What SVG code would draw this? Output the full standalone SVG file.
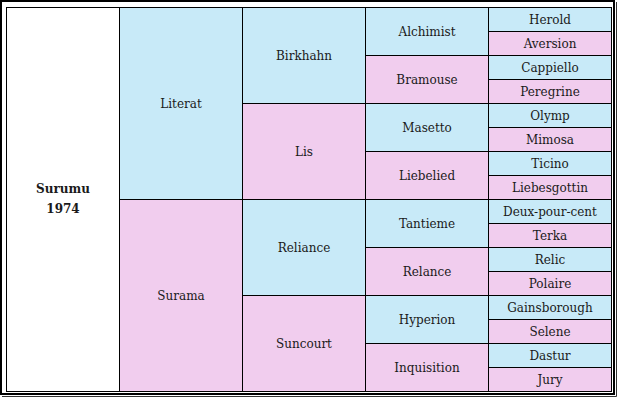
<svg xmlns="http://www.w3.org/2000/svg" width="617" height="397" viewBox="0 0 617 397">
<style>
.m{fill:#c8eaf8;stroke:#000;stroke-width:1}
.f{fill:#f1cdee;stroke:#000;stroke-width:1}
.w{fill:#fff;stroke:#000;stroke-width:1}
text{font-family:"DejaVu Serif","Liberation Serif",serif;font-size:12px;fill:#1a1a1a;text-anchor:middle}
.b{font-weight:bold}
</style>
<rect x="1" y="1" width="613" height="393" fill="#fff" stroke="#000" stroke-width="2"/>
<path d="M616.5 2V396.5H2" fill="none" stroke="#333" stroke-width="1"/>
<g id="surumu"><rect class="w" x="6.5" y="7.5" width="113" height="384"/><text class="b" x="63" y="193">Surumu</text><text class="b" x="63" y="213">1974</text></g>
<g id="literat"><rect class="m" x="119.5" y="7.5" width="123" height="192"/><text x="181" y="107.5">Literat</text></g>
<g id="surama"><rect class="f" x="119.5" y="199.5" width="123" height="192"/><text x="181" y="299.5">Surama</text></g>
<g id="birkhahn"><rect class="m" x="242.5" y="7.5" width="123" height="96"/><text x="304" y="59.5">Birkhahn</text></g>
<g id="lis"><rect class="f" x="242.5" y="103.5" width="123" height="96"/><text x="304" y="155.5">Lis</text></g>
<g id="reliance"><rect class="m" x="242.5" y="199.5" width="123" height="96"/><text x="304" y="251.5">Reliance</text></g>
<g id="suncourt"><rect class="f" x="242.5" y="295.5" width="123" height="96"/><text x="304" y="347.5">Suncourt</text></g>
<g id="alchimist"><rect class="m" x="365.5" y="7.5" width="123" height="48"/><text x="427" y="35.5">Alchimist</text></g>
<g id="bramouse"><rect class="f" x="365.5" y="55.5" width="123" height="48"/><text x="427" y="83.5">Bramouse</text></g>
<g id="masetto"><rect class="m" x="365.5" y="103.5" width="123" height="48"/><text x="427" y="131.5">Masetto</text></g>
<g id="liebelied"><rect class="f" x="365.5" y="151.5" width="123" height="48"/><text x="427" y="179.5">Liebelied</text></g>
<g id="tantieme"><rect class="m" x="365.5" y="199.5" width="123" height="48"/><text x="427" y="227.5">Tantieme</text></g>
<g id="relance"><rect class="f" x="365.5" y="247.5" width="123" height="48"/><text x="427" y="275.5">Relance</text></g>
<g id="hyperion"><rect class="m" x="365.5" y="295.5" width="123" height="48"/><text x="427" y="323.5">Hyperion</text></g>
<g id="inquisition"><rect class="f" x="365.5" y="343.5" width="123" height="48"/><text x="427" y="371.5">Inquisition</text></g>
<g id="herold"><rect class="m" x="488.5" y="7.5" width="123" height="24"/><text x="550" y="23.5">Herold</text></g>
<g id="aversion"><rect class="f" x="488.5" y="31.5" width="123" height="24"/><text x="550" y="47.5">Aversion</text></g>
<g id="cappiello"><rect class="m" x="488.5" y="55.5" width="123" height="24"/><text x="550" y="71.5">Cappiello</text></g>
<g id="peregrine"><rect class="f" x="488.5" y="79.5" width="123" height="24"/><text x="550" y="95.5">Peregrine</text></g>
<g id="olymp"><rect class="m" x="488.5" y="103.5" width="123" height="24"/><text x="550" y="119.5">Olymp</text></g>
<g id="mimosa"><rect class="f" x="488.5" y="127.5" width="123" height="24"/><text x="550" y="143.5">Mimosa</text></g>
<g id="ticino"><rect class="m" x="488.5" y="151.5" width="123" height="24"/><text x="550" y="167.5">Ticino</text></g>
<g id="liebesgottin"><rect class="f" x="488.5" y="175.5" width="123" height="24"/><text x="550" y="191.5">Liebesgottin</text></g>
<g id="deux-pour-cent"><rect class="m" x="488.5" y="199.5" width="123" height="24"/><text x="550" y="215.5">Deux-pour-cent</text></g>
<g id="terka"><rect class="f" x="488.5" y="223.5" width="123" height="24"/><text x="550" y="239.5">Terka</text></g>
<g id="relic"><rect class="m" x="488.5" y="247.5" width="123" height="24"/><text x="550" y="263.5">Relic</text></g>
<g id="polaire"><rect class="f" x="488.5" y="271.5" width="123" height="24"/><text x="550" y="287.5">Polaire</text></g>
<g id="gainsborough"><rect class="m" x="488.5" y="295.5" width="123" height="24"/><text x="550" y="311.5">Gainsborough</text></g>
<g id="selene"><rect class="f" x="488.5" y="319.5" width="123" height="24"/><text x="550" y="335.5">Selene</text></g>
<g id="dastur"><rect class="m" x="488.5" y="343.5" width="123" height="24"/><text x="550" y="359.5">Dastur</text></g>
<g id="jury"><rect class="f" x="488.5" y="367.5" width="123" height="24"/><text x="550" y="383.5">Jury</text></g>
</svg>
